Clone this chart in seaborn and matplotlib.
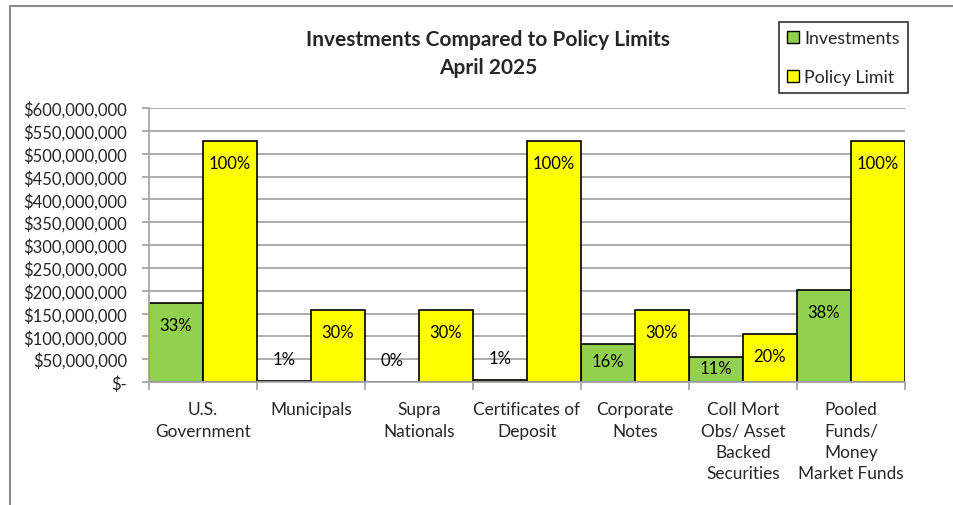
import numpy as np
import pandas as pd
import matplotlib
matplotlib.use("Agg")
import matplotlib.pyplot as plt
from matplotlib.lines import Line2D
from matplotlib.ticker import FuncFormatter, FixedLocator
import seaborn as sns

# =========================
# DATA
# =========================
categories = ["U.S.\nGovernment", "Municipals", "Supra\nNationals",
              "Certificates of\nDeposit", "Corporate\nNotes",
              "Coll Mort\nObs/ Asset\nBacked\nSecurities",
              "Pooled\nFunds/\nMoney\nMarket Funds"]
investments = [174e6, 3e6, 0, 5e6, 84e6, 55e6, 201e6]
policy_limit = [527e6, 158e6, 158e6, 527e6, 158e6, 105e6, 527e6]
inv_pct = ["33%", "1%", "0%", "1%", "16%", "11%", "38%"]
lim_pct = ["100%", "30%", "30%", "100%", "30%", "20%", "100%"]
series = ["Investments", "Policy Limit"]

df = pd.DataFrame({
    "category": categories * 2,
    "value": investments + policy_limit,
    "series": [series[0]] * len(categories) + [series[1]] * len(categories),
})

# =========================
# STYLE
# =========================
sns.set_theme(style="white")
plt.rcParams["font.family"] = ["Lato", "DejaVu Sans"]

green = "#92D050"
yellow = "#FFFF00"
grid_c = "#A6A6A6"

fig = plt.figure(figsize=(9.54, 5.06), dpi=100)
ax = fig.add_axes([149 / 954, 1 - 383 / 506, (905 - 149) / 954, (383 - 109) / 506])

sns.barplot(data=df, x="category", y="value", hue="series",
            palette=[green, yellow], saturation=1, width=1.0, gap=0,
            edgecolor="black", linewidth=1.2, errorbar=None, ax=ax)

ax.set_ylim(0, 600e6)
ax.set_xlim(-0.5, len(categories) - 0.5)
ax.yaxis.set_major_locator(FixedLocator(np.arange(0, 600e6 + 1, 50e6)))
ax.yaxis.set_major_formatter(FuncFormatter(
    lambda v, p: "$-" if v == 0 else f"${v:,.0f}"))
ax.yaxis.grid(True, color=grid_c, lw=1.3)
ax.set_axisbelow(True)
ax.set_xlabel("")
ax.set_ylabel("")

for s in ["top", "right"]:
    ax.spines[s].set_visible(False)
for s in ["left", "bottom"]:
    ax.spines[s].set_color(grid_c)
    ax.spines[s].set_linewidth(1.3)

ax.tick_params(axis="y", which="major", length=5, width=1.3, color=grid_c,
               labelsize=12, pad=11, left=True)
ax.tick_params(axis="x", which="major", length=0, labelsize=12.4, pad=14,
               bottom=True)
ax.set_xticks(np.arange(-0.5, len(categories), 1.0), minor=True)
ax.tick_params(axis="x", which="minor", length=6, width=1.3, color=grid_c,
               bottom=True)
for t in ax.get_xticklabels():
    t.set_linespacing(1.4)

# =========================
# DATA LABELS
# =========================
px_per_val = (383 - 109) / 600e6
for cont, labels in zip(ax.containers, [inv_pct, lim_pct]):
    for bar, lab in zip(cont, labels):
        h = bar.get_height()
        xc = bar.get_x() + bar.get_width() / 2
        hpx = h * px_per_val
        if hpx < 10:
            off = 22
        else:
            off = -min(22, 0.45 * hpx)
        ax.annotate(lab, (xc, h), xytext=(0, off), textcoords="offset pixels",
                    ha="center", va="center", fontsize=12, color="black")

# =========================
# LEGEND / TITLE / BORDER
# =========================
leg = ax.legend(title=None, loc="upper right",
                bbox_to_anchor=(908 / 954, 1 - 23 / 506),
                bbox_transform=fig.transFigure, fontsize=12.8,
                frameon=True, fancybox=False, labelspacing=1.3,
                handlelength=0.7, handleheight=0.7, handletextpad=0.3,
                borderpad=0.45, borderaxespad=0)
leg.get_frame().set_edgecolor("black")
leg.get_frame().set_linewidth(1.2)
for hnd in leg.legend_handles:
    hnd.set_edgecolor("black")
    hnd.set_linewidth(1.0)

fig.text(488 / 954, 1 - 54 / 506,
         "Investments Compared to Policy Limits\nApril 2025",
         ha="center", va="center", fontsize=15, fontweight="bold",
         linespacing=1.5)

fig.add_artist(Line2D([10 / 954, 1], [1 - 7 / 506, 1 - 7 / 506],
                      transform=fig.transFigure, color="#8C8C8C", lw=1.5))
fig.add_artist(Line2D([10 / 954, 10 / 954], [0, 1 - 7 / 506],
                      transform=fig.transFigure, color="#8C8C8C", lw=1.5))

fig.savefig("out.png", dpi=100, facecolor="white")
